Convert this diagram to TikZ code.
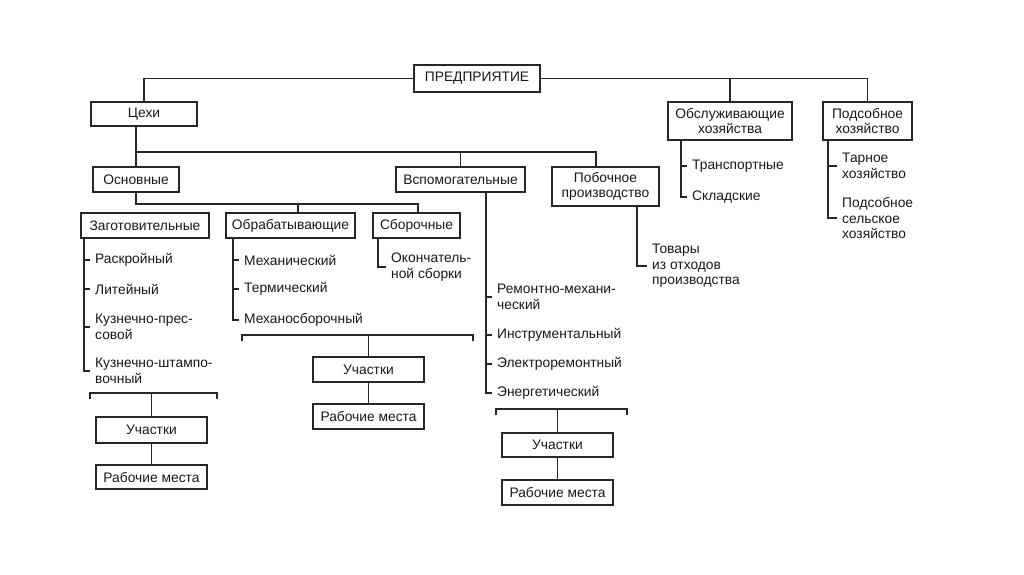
\documentclass[tikz,border=0pt]{standalone}
\usepackage{fontspec}
\setmainfont{Liberation Sans}
\begin{document}
\begin{tikzpicture}[x=1pt,y=-1pt,
  ln/.style={draw=black!85, line width=1.6pt},
  box/.style={draw=black!85, line width=1.6pt, fill=white, inner sep=0pt, align=center, text=black!90,
    font=\fontsize{13.8}{15.5}\selectfont},
  lbl/.style={anchor=west, inner sep=0pt, align=left, text=black!90, font=\fontsize{13.8}{15.5}\selectfont}]
\useasboundingbox[fill=white] (0,0) rectangle (1024,574);

% boxes
\node[box, minimum width=126pt, minimum height=27pt] (pred) at (477,78.5) {ПРЕДПРИЯТИЕ};
\node[box, minimum width=106pt, minimum height=24pt] (cehi) at (144,114) {Цехи};
\node[box, minimum width=124pt, minimum height=38pt] (obsl) at (730,121) {Обслуживающие\\хозяйства};
\node[box, minimum width=89pt, minimum height=38pt] (podsob) at (867.5,121) {Подсобное\\хозяйство};
\node[box, minimum width=86pt, minimum height=25pt] (osn) at (136,179.5) {Основные};
\node[box, minimum width=129pt, minimum height=25pt] (vspom) at (460.5,179.5) {Вспомогательные};
\node[box, minimum width=107pt, minimum height=39pt] (pob) at (605.5,186.5) {Побочное\\производство};
\node[box, minimum width=128pt, minimum height=25pt] (zag) at (145,225.5) {Заготовительные};
\node[box, minimum width=129pt, minimum height=25pt] (obr) at (290.5,225.5) {Обрабатывающие};
\node[box, minimum width=87pt, minimum height=25pt] (sbor) at (416.5,225.5) {Сборочные};
\node[box, minimum width=111pt, minimum height=26pt] (uch1) at (151.5,430) {Участки};
\node[box, minimum width=111pt, minimum height=24pt] (rm1) at (151.5,477) {Рабочие места};
\node[box, minimum width=111pt, minimum height=25pt] (uch2) at (368.5,369.5) {Участки};
\node[box, minimum width=111pt, minimum height=25pt] (rm2) at (368.5,416.5) {Рабочие места};
\node[box, minimum width=111pt, minimum height=24pt] (uch3) at (557.5,445) {Участки};
\node[box, minimum width=111pt, minimum height=25pt] (rm3) at (557.5,492.5) {Рабочие места};

% labels
\node[lbl] (tr) at (692,166) {Транспортные};
\node[lbl] (skl) at (692,197) {Складские};
\node[lbl] (tar) at (842,166) {Тарное\\хозяйство};
\node[lbl] (sel) at (842,218) {Подсобное\\сельское\\хозяйство};
\node[lbl] (tov) at (652,266) {Товары\\из отходов\\производства};
\node[lbl] (rask) at (95,260) {Раскройный};
\node[lbl] (lit) at (95,289) {Литейный};
\node[lbl] (kpr) at (95,327) {Кузнечно-прес-\\совой};
\node[lbl] (kst) at (95,371) {Кузнечно-штампо-\\вочный};
\node[lbl] (meh) at (244,260) {Механический};
\node[lbl] (ter) at (244,289) {Термический};
\node[lbl] (msb) at (244,320) {Механосборочный};
\node[lbl] (okn) at (391,267) {Окончатель-\\ной сборки};
\node[lbl] (rem) at (497,297) {Ремонтно-механи-\\ческий};
\node[lbl] (ins) at (497,335) {Инструментальный};
\node[lbl] (el) at (497,364) {Электроремонтный};
\node[lbl] (en) at (497,393) {Энергетический};

% helper coordinates
\coordinate (h1) at (136,152);
\coordinate (h1r) at (596,152);
\coordinate (h2) at (136,204);
\coordinate (h2m) at (298,204);
\coordinate (h2r) at (418,204);
\coordinate (b1l) at (90,393);
\coordinate (b1r) at (217,393);
\coordinate (b1m) at (151.5,393);
\coordinate (b2l) at (242,335);
\coordinate (b2r) at (473,335);
\coordinate (b2m) at (368.5,335);
\coordinate (b3l) at (496,409);
\coordinate (b3r) at (627,409);
\coordinate (b3m) at (557.5,409);
\coordinate (vz) at (84,238);
\coordinate (vo) at (233,238);
\coordinate (vs) at (378,238);
\coordinate (vv) at (486,192);
\coordinate (vp) at (637,206);
\coordinate (vob) at (681,140);
\coordinate (vpd) at (828,140);

% top level
\draw[ln] (pred.west) -| (cehi.north);
\draw[ln] (pred.east) -| (podsob.north);
\draw[ln] (obsl.north) -- (obsl.north |- pred.east);

% cehi
\draw[ln] (osn.north |- cehi.south) -- (osn.north);
\draw[ln] (h1) -- (h1r) -- (h1r |- pob.north);
\draw[ln] (vspom.north |- h1) -- (vspom.north);

% osnovnye
\draw[ln] (osn.south) -- (h2) -- (h2r) -- (h2r |- sbor.north);
\draw[ln] (h2m) -- (h2m |- obr.north);

% zag children
\draw[ln] (vz) -- (vz |- kst.west) -- ([xshift=-5pt]kst.west);
\foreach \n in {rask,lit,kpr} \draw[ln] (vz |- \n.west) -- ([xshift=-5pt]\n.west);
% obr children
\draw[ln] (vo) -- (vo |- msb.west) -- ([xshift=-5pt]msb.west);
\foreach \n in {meh,ter} \draw[ln] (vo |- \n.west) -- ([xshift=-5pt]\n.west);
% sbor child
\draw[ln] (vs) -- (vs |- okn.west) -- ([xshift=-5pt]okn.west);
% vspom children
\draw[ln] (vv) -- (vv |- en.west) -- ([xshift=-5pt]en.west);
\foreach \n in {rem,ins,el} \draw[ln] (vv |- \n.west) -- ([xshift=-5pt]\n.west);
% pob child
\draw[ln] (vp) -- (vp |- tov.west) -- ([xshift=-5pt]tov.west);
% obsl children
\draw[ln] (vob) -- (vob |- skl.west) -- ([xshift=-5pt]skl.west);
\draw[ln] (vob |- tr.west) -- ([xshift=-5pt]tr.west);
% podsob children
\draw[ln] (vpd) -- (vpd |- sel.west) -- ([xshift=-5pt]sel.west);
\draw[ln] (vpd |- tar.west) -- ([xshift=-5pt]tar.west);

% brackets
\draw[ln] ([yshift=-6pt]b1l) -- (b1l) -- (b1r) -- ([yshift=-6pt]b1r);
\draw[ln] (b1m) -- (uch1.north);
\draw[ln] (uch1.south) -- (rm1.north);
\draw[ln] ([yshift=-6pt]b2l) -- (b2l) -- (b2r) -- ([yshift=-6pt]b2r);
\draw[ln] (b2m) -- (uch2.north);
\draw[ln] (uch2.south) -- (rm2.north);
\draw[ln] ([yshift=-6pt]b3l) -- (b3l) -- (b3r) -- ([yshift=-6pt]b3r);
\draw[ln] (b3m) -- (uch3.north);
\draw[ln] (uch3.south) -- (rm3.north);
\end{tikzpicture}
\end{document}
